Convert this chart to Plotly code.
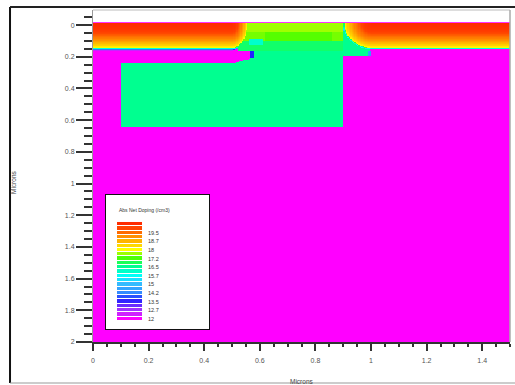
import numpy as np
import plotly.graph_objects as go

# ---------------- axes ----------------
x_tickvals = [0, 0.2, 0.4, 0.6, 0.8, 1.0, 1.2, 1.4]
x_ticktext = ["0", "0.2", "0.4", "0.6", "0.8", "1", "1.2", "1.4"]
y_tickvals = [0, 0.2, 0.4, 0.6, 0.8, 1.0, 1.2, 1.4, 1.6, 1.8, 2.0]
y_ticktext = ["0", "0.2", "0.4", "0.6", "0.8", "1", "1.2", "1.4", "1.6", "1.8", "2"]
x_range = [0, 1.5]
y_range = [2.0, -0.095]

# ---------------- doping structure (log10 |net doping|) ----------------
background_value = 12.0
surface_top = -0.018          # top of the device
sd_surface = -0.010           # start of the heavily doped layer
# vertical source/drain profile: depth below sd_surface -> log doping
profile_depth = [0.000, 0.040, 0.060, 0.080, 0.100, 0.120, 0.140, 0.152, 0.158, 0.163, 0.167, 0.171]
profile_value = [20.30, 20.10, 19.90, 19.50, 19.20, 18.80, 18.40, 18.00, 16.00, 15.00, 13.80, 12.00]
left_sd_edge, left_sd_lateral = 0.50, 0.36
right_sd_edge, right_sd_lateral = 1.005, 0.66
right_sd_cut = 0.162

# well regions (x0, x1, y0, y1, value)
well_regions = [
    (0.100, 0.900, 0.242, 0.648, 16.5),
    (0.571, 0.900, 0.160, 0.242, 16.5),
    (0.900, 0.995, -0.010, 0.200, 16.5),
]
wedge_x = [0.503, 0.571]
wedge_y = [0.242, 0.210]
# channel region under the gate
channel_bands = [
    (0.50, 0.90, -0.010, 0.045, 17.65),
    (0.50, 0.90, 0.045, 0.100, 17.45),
    (0.62, 0.86, 0.045, 0.100, 17.30),
    (0.52, 0.90, 0.100, 0.160, 16.75),
    (0.56, 0.61, 0.085, 0.125, 16.10),
]
edge_marks = [
    (0.566, 0.579, 0.162, 0.212, 13.6),
    (0.990, 0.998, 0.166, 0.200, 14.5),
]

# colour table
color_levels = [12.0, 12.4, 12.8, 13.6, 14.2, 15.0, 15.7, 16.1, 16.5, 17.0, 17.3, 17.65, 18.0, 18.5, 19.2, 19.9, 20.4]
color_values = ["#ff00ff", "#cc22ff", "#9933ff", "#2222ff", "#3388ff", "#33bbff", "#00ffff", "#00ffcc",
                "#00ff90", "#22ff44", "#55ff00", "#a0ff00", "#ffff00", "#ffcc00", "#ff8800", "#ff4400", "#ff2200"]
zmin, zmax = 12.0, 20.4

# legend
legend_levels = [12.0, 12.375, 12.75, 13.125, 13.5, 13.875, 14.25, 14.625, 15.0, 15.375, 15.75, 16.125,
                 16.5, 16.875, 17.25, 17.625, 18.0, 18.375, 18.75, 19.125, 19.5, 19.875, 20.25]
legend_label_vals = [12.0, 12.75, 13.5, 14.25, 15.0, 15.75, 16.5, 17.25, 18.0, 18.75, 19.5]
legend_label_text = ["12", "12.7", "13.5", "14.2", "15", "15.7", "16.5", "17.2", "18", "18.7", "19.5"]
legend_title = "Abs Net Doping (/cm3)"

# ---------------- build grid ----------------
dx, dy = 0.005, 0.004
xc = np.arange(300) * dx + dx / 2
yc = surface_top + dy / 2 + np.arange(505) * dy
X, Y = np.meshgrid(xc, yc)
Z = np.full(X.shape, background_value)


def fill_rect(r):
    x0, x1, y0, y1, v = r
    m = (X >= x0) & (X < x1) & (Y >= y0) & (Y < y1)
    Z[m] = v


for r in well_regions:
    fill_rect(r)
slope = (wedge_y[1] - wedge_y[0]) / (wedge_x[1] - wedge_x[0])
wm = (X >= wedge_x[0]) & (X < wedge_x[1]) & (Y < wedge_y[0]) & (Y > wedge_y[0] + (X - wedge_x[0]) * slope)
Z[wm] = 16.5
for r in channel_bands:
    fill_rect(r)
for r in edge_marks:
    fill_rect(r)

depth = Y - sd_surface
latL = np.clip(X - left_sd_edge, 0, None) / left_sd_lateral
dL = np.sqrt(latL ** 2 + depth ** 2)
fL = np.interp(dL, profile_depth, profile_value, right=background_value)
Z = np.where(depth >= 0, np.maximum(Z, fL), Z)
latR = np.clip(right_sd_edge - X, 0, None) / right_sd_lateral
dR = np.sqrt(latR ** 2 + depth ** 2)
fR = np.interp(dR, profile_depth, profile_value, right=background_value)
mR = (depth >= 0) & (dR < right_sd_cut)
Z[mR] = fR[mR]
Z = np.round(Z, 2)

colorscale = [[(l - zmin) / (zmax - zmin), c] for l, c in zip(color_levels, color_values)]

fig = go.Figure()
fig.add_trace(go.Heatmap(x=xc, y=yc, z=Z, colorscale=colorscale, zmin=zmin, zmax=zmax,
                         showscale=False, hoverinfo="skip", zsmooth=False))
fig.add_trace(go.Heatmap(x=[11, 36], y=legend_levels, z=[[v] for v in legend_levels],
                         colorscale=colorscale, zmin=zmin, zmax=zmax, ygap=1,
                         showscale=False, hoverinfo="skip", xaxis="x2", yaxis="y2"))

font = "Liberation Sans, Arial, sans-serif"
ann = []
for v, t in zip(legend_label_vals, legend_label_text):
    ann.append(dict(xref="x2", yref="y2", x=40, y=v, text=t, showarrow=False, xanchor="left",
                    yanchor="middle", font=dict(size=5.5, color="#333", family=font)))
ann.append(dict(xref="x2", yref="y2", x=11, y=21.5, text=legend_title, showarrow=False, xanchor="left",
                yanchor="middle", font=dict(size=5, color="#333", family=font)))
ann.append(dict(xref="paper", yref="paper", x=0.5, y=-0.118, text="Microns", showarrow=False,
                xanchor="center", yanchor="middle", font=dict(size=6.5, color="#444", family=font)))
ann.append(dict(xref="paper", yref="paper", x=-0.1894, y=0.482, text="Microns", showarrow=False,
                textangle=-90, xanchor="center", yanchor="middle", font=dict(size=6.5, color="#444", family=font)))

shapes = [
    dict(type="line", xref="paper", yref="paper", x0=-0.199, x1=-0.199, y0=-0.1235, y1=1.009,
         line=dict(color="#111", width=2)),
    dict(type="line", xref="paper", yref="paper", x0=-0.199, x1=1.03, y0=1.009, y1=1.009,
         line=dict(color="#222", width=2)),
    dict(type="line", xref="paper", yref="paper", x0=-0.199, x1=1.03, y0=-0.1235, y1=-0.1235,
         line=dict(color="#999", width=1)),
    dict(type="line", xref="paper", yref="paper", x0=0, x1=1, y0=1, y1=1,
         line=dict(color="#bbb", width=1)),
    dict(type="line", xref="paper", yref="paper", x0=1, x1=1, y0=0, y1=1,
         line=dict(color="#aaa", width=1.5)),
]

fig.update_layout(
    width=515, height=385,
    margin=dict(l=93, r=5, t=10, b=43),
    paper_bgcolor="white", plot_bgcolor="white",
    font=dict(family=font),
    annotations=ann, shapes=shapes,
    xaxis=dict(range=x_range, tickvals=x_tickvals, ticktext=x_ticktext, ticks="outside",
               ticklen=7, tickwidth=2, tickcolor="#333", showgrid=False, zeroline=False,
               showline=True, linecolor="#333", linewidth=1.5,
               tickfont=dict(size=7, color="#555"), ticklabelstandoff=4,
               minor=dict(ticks="outside", dtick=0.05, tick0=0, ticklen=3.5, tickwidth=1.5,
                          tickcolor="#333", showgrid=False)),
    yaxis=dict(range=y_range, tickvals=y_tickvals, ticktext=y_ticktext, ticks="outside",
               ticklen=16, tickwidth=2, tickcolor="#333", showgrid=False, zeroline=False,
               showline=True, linecolor="#999", linewidth=1,
               tickfont=dict(size=7, color="#555"),
               minor=dict(ticks="outside", dtick=0.05, tick0=0, ticklen=8, tickwidth=1.5,
                          tickcolor="#333", showgrid=False)),
    xaxis2=dict(domain=[0.0312, 0.2782], range=[0, 103], anchor="y2", showline=True, mirror=True,
                linecolor="#111", linewidth=1, showticklabels=False, ticks="", showgrid=False,
                zeroline=False, fixedrange=True),
    yaxis2=dict(domain=[0.0392, 0.4428], range=[11.1155, 22.79], anchor="x2", showline=True, mirror=True,
                linecolor="#111", linewidth=1, showticklabels=False, ticks="", showgrid=False,
                zeroline=False, fixedrange=True),
)

fig.write_html("out.html", config={"displayModeBar": False},
               post_script="document.body.style.margin='0';document.body.style.overflow='hidden';")
